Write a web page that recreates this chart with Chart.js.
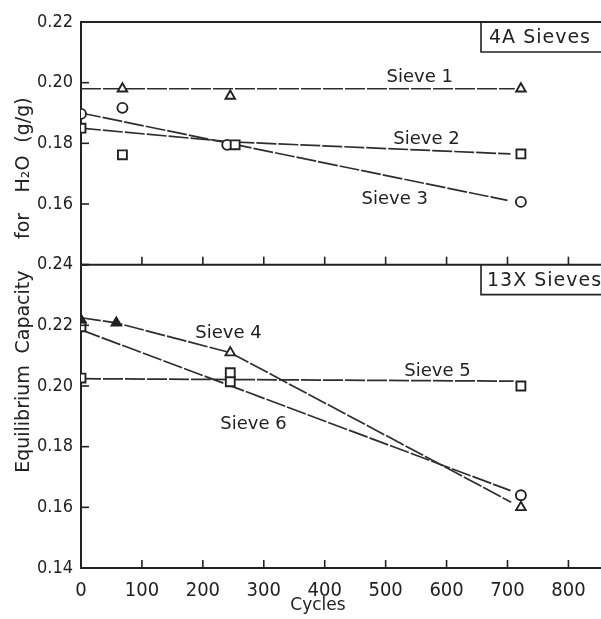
<!DOCTYPE html>
<html><head><meta charset="utf-8">
<script src="https://cdn.jsdelivr.net/npm/chart.js@4"></script>
<style>html,body{margin:0;padding:0;background:#fff;}#wrap{position:relative;width:601px;height:619px;}</style>
</head><body><div id="wrap"><canvas id="c" width="601" height="619"></canvas></div>
<script>
// ---------- data ----------
const xTicks = [0,100,200,300,400,500,600,700,800];
const topTicks = [0.14,0.16,0.18,0.20,0.22];
const botTicks = [0.14,0.16,0.18,0.20,0.22,0.24];

// 4A sieves (top panel) - measured points
const s1Cycles = [68,245,722];      const s1Cap = [0.198,0.1956,0.198];
const s2Cycles = [0,68,253,722];    const s2Cap = [0.185,0.1762,0.1795,0.1765];
const s3Cycles = [0,68,240,722];    const s3Cap = [0.1897,0.1917,0.1795,0.1607];
// fitted lines
const s1LineX = [0,712];            const s1LineY = [0.198,0.198];
const s2LineX = [0,245,705];        const s2LineY = [0.185,0.1805,0.1765];
const s3LineX = [0,700];            const s3LineY = [0.190,0.1612];

// 13X sieves (bottom panel)
const s4Cycles = [0,58,245,722];    const s4Cap = [0.2218,0.2208,0.211,0.160];
const s5Cycles = [0,245,722];       const s5Cap = [0.2026,0.2044,0.200];
const s6Cycles = [0,245,722];       const s6Cap = [0.2195,0.2014,0.164];
const s4LineX = [0,58,245,706];     const s4LineY = [0.2225,0.2208,0.211,0.1617];
const s5LineX = [0,710];            const s5LineY = [0.2024,0.2016];
const s6LineX = [0,705];            const s6LineY = [0.2185,0.1655];

const labelText  = ['Sieve 1','Sieve 2','Sieve 3','Sieve 4','Sieve 5','Sieve 6'];
const labelX     = [556,567,515,242,585,283];
const labelY     = [0.2019,0.1812,0.1614,0.2172,0.2047,0.1875];
const labelAxis  = ['yTop','yTop','yTop','yBot','yBot','yBot'];

// ---------- helpers ----------
const INK = '#222';
const RAD = {rect:6.3, circle:5, triangle:5.5};
const pts = (xs, ys) => xs.map((x,i)=>({x:x, y:ys[i]}));
function lineDs(xs, ys, axis){
  return {type:'line', data:pts(xs,ys), yAxisID:axis, borderColor:'#2e2e2e', borderWidth:1.7,
    borderDash:[20,2], pointRadius:0, fill:false, tension:0, order:2};
}
function ptDs(xs, ys, axis, style, fills){
  const r = Array.isArray(style) ? style.map(s=>RAD[s]) : RAD[style];
  return {type:'scatter', data:pts(xs,ys), yAxisID:axis, pointStyle:style,
    pointRadius:r, pointBorderColor:INK, pointBorderWidth:1.9,
    pointBackgroundColor: fills || '#fff', showLine:false, order:1};
}
const yFont = {family:"'Liberation Sans Narrow','DejaVu Sans Condensed',sans-serif", size:18};
const xFont = {family:"'DejaVu Sans Condensed',sans-serif", size:20};

const frame = {
  id:'frame',
  afterDraw(chart){
    const ctx = chart.ctx, x = chart.scales.x, yT = chart.scales.yTop, yB = chart.scales.yBot;
    const R = chart.width;
    ctx.save();
    ctx.strokeStyle = INK; ctx.lineWidth = 2;
    [yT.top, yT.bottom, yB.bottom].forEach(y=>{
      ctx.beginPath(); ctx.moveTo(x.left, y); ctx.lineTo(R, y); ctx.stroke();
    });
    ctx.lineWidth = 1.6;
    xTicks.slice(1).forEach(v=>{
      const px = x.getPixelForValue(v);
      [yT.bottom, yB.bottom].forEach(y=>{
        ctx.beginPath(); ctx.moveTo(px, y); ctx.lineTo(px, y-8); ctx.stroke();
      });
    });
    [[yT, topTicks],[yB, botTicks]].forEach(([s, t])=>{
      t.forEach(v=>{
        const py = s.getPixelForValue(v);
        ctx.beginPath(); ctx.moveTo(x.left, py); ctx.lineTo(x.left+8, py); ctx.stroke();
      });
    });
    ctx.lineWidth = 1.6;
    const bx = 481, bw = 30;
    [yT.top, yB.top].forEach(y=>{
      ctx.beginPath(); ctx.moveTo(bx, y); ctx.lineTo(bx, y+bw); ctx.lineTo(R, y+bw); ctx.stroke();
    });
    ctx.fillStyle = INK;
    ctx.font = "19px 'DejaVu Sans', sans-serif";
    ctx.textBaseline = 'middle'; ctx.textAlign = 'left';
    try { ctx.letterSpacing = '1px'; } catch(e){}
    ctx.fillText('4A Sieves', bx+8, yT.top+16);
    ctx.fillText('13X Sieves', bx+6, yB.top+16);
    try { ctx.letterSpacing = '0px'; } catch(e){}
    ctx.font = "18px 'DejaVu Sans', sans-serif";
    ctx.textAlign = 'center';
    labelText.forEach((t,i)=>{
      const s = chart.scales[labelAxis[i]];
      ctx.fillText(t, x.getPixelForValue(labelX[i]), s.getPixelForValue(labelY[i]));
    });
    ctx.font = "17px 'DejaVu Sans', sans-serif";
    ctx.fillText('Cycles', 318, 606);
    ctx.font = "19px 'DejaVu Sans', sans-serif";
    const words = [['Equilibrium',419],['Capacity',312],['for',226],['H\u2082O',174],['(g/g)',120]];
    words.forEach(([w, yc])=>{
      ctx.save(); ctx.translate(24, yc); ctx.rotate(-Math.PI/2);
      ctx.fillText(w, 0, 0); ctx.restore();
    });
    ctx.restore();
  }
};

new Chart(document.getElementById('c'), {
  data:{datasets:[
    lineDs(s1LineX,s1LineY,'yTop'), lineDs(s2LineX,s2LineY,'yTop'), lineDs(s3LineX,s3LineY,'yTop'),
    lineDs(s4LineX,s4LineY,'yBot'), lineDs(s5LineX,s5LineY,'yBot'), lineDs(s6LineX,s6LineY,'yBot'),
    ptDs(s1Cycles,s1Cap,'yTop','triangle'),
    ptDs(s2Cycles,s2Cap,'yTop','rect'),
    ptDs(s3Cycles,s3Cap,'yTop','circle'),
    ptDs(s4Cycles,s4Cap,'yBot','triangle',[INK,INK,'#fff','#fff']),
    ptDs(s5Cycles,s5Cap,'yBot','rect'),
    ptDs(s6Cycles,s6Cap,'yBot',['rect','rect','circle'])
  ]},
  options:{
    responsive:false, animation:false, devicePixelRatio:1,
    layout:{padding:{top:22,left:0,right:0,bottom:0}},
    plugins:{legend:{display:false}, tooltip:{enabled:false}},
    scales:{
      x:{type:'linear', min:0, max:840, position:'bottom',
        grid:{display:false}, border:{display:false},
        afterBuildTicks(s){ s.ticks = xTicks.map(v=>({value:v})); },
        afterFit(s){ s.height = 51; s.paddingRight = 0; s.paddingLeft = 0; },
        ticks:{font:xFont, color:INK, padding:3, maxRotation:0, autoSkip:false,
          callback:v=>String(v)}},
      yBot:{type:'linear', position:'left', stack:'p', stackWeight:5, min:0.14, max:0.24,
        grid:{display:false}, border:{display:true, color:INK, width:2},
        afterBuildTicks(s){ s.ticks = botTicks.map(v=>({value:v})); },
        afterFit(s){ s.width = 81; },
        ticks:{font:yFont, color:INK, padding:0, callback:v=>v.toFixed(2)}},
      yTop:{type:'linear', position:'left', stack:'p', stackWeight:4, min:0.14, max:0.22,
        grid:{display:false}, border:{display:true, color:INK, width:2},
        afterBuildTicks(s){ s.ticks = topTicks.map(v=>({value:v})); },
        afterFit(s){ s.width = 81; },
        ticks:{font:yFont, color:INK, padding:0, callback:v=>(v<0.15?'':v.toFixed(2))}}
    }
  },
  plugins:[frame]
});
</script></body></html>
